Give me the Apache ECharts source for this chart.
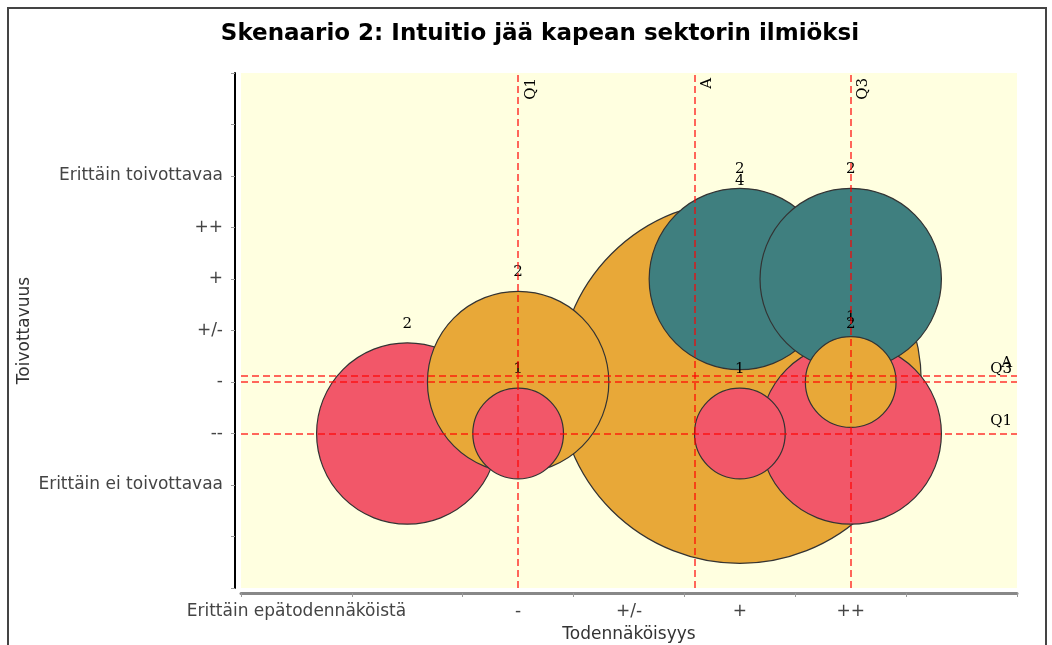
<!DOCTYPE html>
<html>
<head>
<meta charset="utf-8">
<script src="https://cdn.jsdelivr.net/npm/echarts@6/dist/echarts.min.js"></script>
<style>
  html, body { margin: 0; padding: 0; background: #fff; }
  #chart { width: 1052px; height: 645px; }
</style>
</head>
<body>
<div id="chart"></div>
<script>
// x labels sit between the ticks (one column per category)
var xCategories = ["Erittäin epätodennäköistä", "", "-", "+/-", "+", "++", ""];
// y labels by value 0..10
var yTickLabels = ["", "", "Erittäin ei toivottavaa", "--", "-", "+/-", "+", "++", "Erittäin toivottavaa", "", ""];

// bubbles, in drawing order (later ones on top)
var bubbleX = [4.5, 1.5, 2.5, 5.5, 4.5, 5.5, 2.5, 4.5, 5.5];
var bubbleY = [4, 3, 4, 3, 6, 6, 3, 3, 4];
var bubbleCount = [4, 2, 2, 2, 2, 2, 1, 1, 1];
var bubbleGroup = [1, 0, 1, 0, 2, 2, 0, 0, 1];

// marker lines
var vMarkerNames = ["Q1", "A", "Q3"];
var vMarkerValues = [2.5, 4.09, 5.5];
var hMarkerNames = ["Q1", "Q3", "A"];
var hMarkerValues = [3, 4, 4.12];

var groupColors = ["#F25769", "#E8A838", "#3F7F7F"];

var chart = echarts.init(document.getElementById("chart"));

var data = [];
for (var i = 0; i < bubbleX.length; i++) {
  data.push({
    value: [bubbleX[i], bubbleY[i], bubbleCount[i]],
    itemStyle: { color: groupColors[bubbleGroup[i]] }
  });
}

var markData = [];
for (var j = 0; j < vMarkerNames.length; j++) {
  markData.push({
    name: vMarkerNames[j],
    xAxis: vMarkerValues[j],
    label: { position: "insideEndBottom" }
  });
}
for (var k = 0; k < hMarkerNames.length; k++) {
  markData.push({
    name: hMarkerNames[k],
    yAxis: hMarkerValues[k],
    label: { position: "insideEndTop" }
  });
}

var option = {
  backgroundColor: "#fff",
  animation: false,
  title: {
    text: "Skenaario 2: Intuitio jää kapean sektorin ilmiöksi",
    left: 535,
    top: 18,
    textAlign: "center",
    textStyle: {
      fontFamily: "DejaVu Sans",
      fontSize: 23,
      fontWeight: "bold",
      color: "#000"
    }
  },
  graphic: [
    {
      type: "rect",
      shape: { x: 8, y: 8, width: 1038, height: 700 },
      style: { fill: "none", stroke: "#444", lineWidth: 2 },
      silent: true
    }
  ],
  grid: {
    left: 241,
    right: 35,
    top: 73,
    bottom: 57,
    outerBoundsMode: "none",
    containLabel: false,
    show: true,
    backgroundColor: "#FFFFE0",
    borderWidth: 0
  },
  xAxis: [
    {
      type: "category",
      data: xCategories,
      boundaryGap: true,
      offset: 5,
      name: "Todennäköisyys",
      nameLocation: "middle",
      nameGap: 33,
      nameTextStyle: { fontFamily: "DejaVu Sans", fontSize: 17, color: "#333" },
      axisLine: { show: true, onZero: false, lineStyle: { color: "#888", width: 3 } },
      axisTick: { show: true, alignWithLabel: false, length: 4, lineStyle: { color: "#999" } },
      axisLabel: {
        interval: 0,
        margin: 10,
        fontFamily: "DejaVu Sans",
        fontSize: 17,
        color: "#444"
      },
      splitLine: { show: false }
    },
    {
      type: "value",
      min: 0,
      max: 7,
      show: false
    }
  ],
  yAxis: {
    type: "value",
    min: 0,
    max: 10,
    interval: 1,
    offset: 6,
    name: "Toivottavuus",
    nameLocation: "middle",
    nameGap: 202,
    nameMoveOverlap: false,
    nameTextStyle: { fontFamily: "DejaVu Sans", fontSize: 17, color: "#333" },
    axisLine: { show: true, onZero: false, lineStyle: { color: "#000", width: 2 } },
    axisTick: { show: true, length: 4, lineStyle: { color: "#999" } },
    axisLabel: {
      margin: 12,
      fontFamily: "DejaVu Sans",
      fontSize: 17,
      color: "#444",
      formatter: function (v) { return yTickLabels[v] || ""; }
    },
    splitLine: { show: false }
  },
  series: [
    {
      type: "scatter",
      xAxisIndex: 1,
      yAxisIndex: 0,
      data: data,
      symbol: "circle",
      symbolSize: function (val) { return val[2] * 90.7; },
      itemStyle: { borderColor: "#333", borderWidth: 1.2, opacity: 1 },
      label: {
        show: true,
        position: "top",
        distance: 11,
        fontFamily: "DejaVu Serif",
        fontSize: 15,
        color: "#000",
        formatter: function (p) { return p.value[2]; }
      },
      emphasis: { disabled: true },
      markLine: {
        silent: true,
        symbol: "none",
        animation: false,
        lineStyle: { color: "rgba(255,0,0,0.8)", type: [7, 4], width: 1.5 },
        label: {
          show: true,
          formatter: "{b}",
          fontFamily: "DejaVu Serif",
          fontSize: 15,
          color: "#000",
          distance: 5
        },
        data: markData
      }
    }
  ]
};

chart.setOption(option);
window.addEventListener("resize", function () {
  chart.resize();
});
</script>
</body>
</html>
